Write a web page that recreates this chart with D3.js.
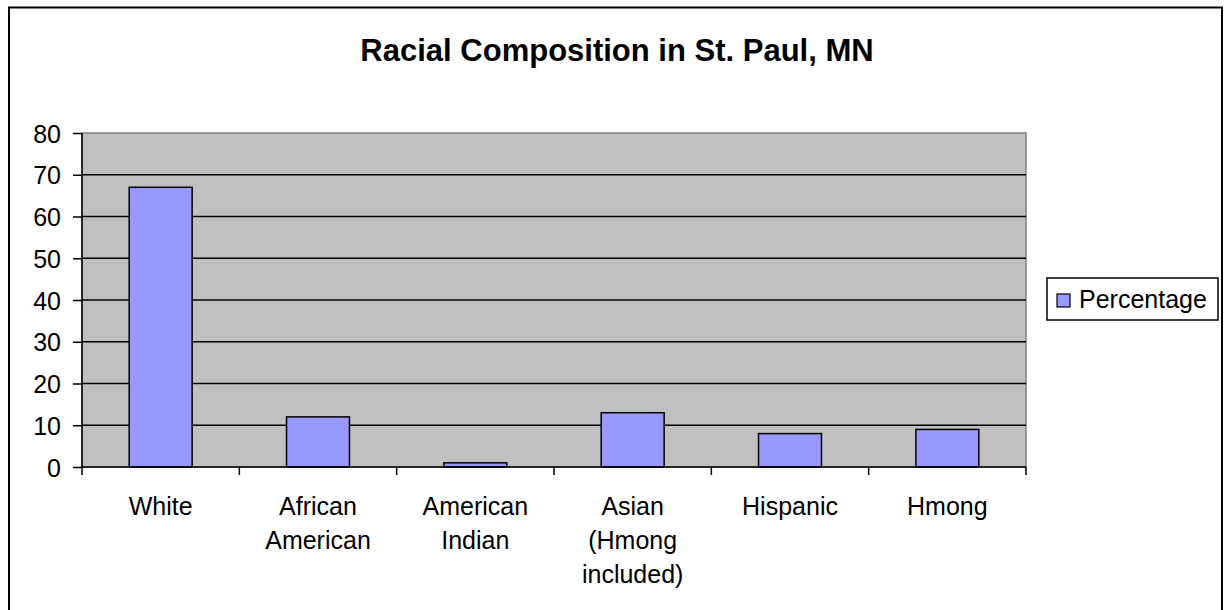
<!DOCTYPE html>
<html>
<head>
<meta charset="utf-8">
<script src="https://cdn.jsdelivr.net/npm/d3@7"></script>
<style>
  body { margin: 0; background: #fff; }
  text { font-family: "Liberation Sans", Arial, sans-serif; fill: #000; }
</style>
</head>
<body>
<div id="chart"></div>
<script>
const FRAME_WIDTH = 1225;
const FRAME_HEIGHT = 610;
const MARGINS = {left: 82, right: 199, top: 133, bottom: 143};

// data
const categories = ["White", "African American", "American Indian", "Asian (Hmong included)", "Hispanic", "Hmong"];
const percentage = [67, 12, 1, 13, 8, 9];
const yTicks = [0, 10, 20, 30, 40, 50, 60, 70, 80];
const seriesName = "Percentage";

const VIS_WIDTH = FRAME_WIDTH - MARGINS.left - MARGINS.right;
const VIS_HEIGHT = FRAME_HEIGHT - MARGINS.top - MARGINS.bottom;

const svg = d3.select("#chart")
  .append("svg")
    .attr("width", FRAME_WIDTH)
    .attr("height", FRAME_HEIGHT);

// outer chart border
svg.append("rect")
  .attr("x", 9).attr("y", 7.5)
  .attr("width", 1213).attr("height", 640)
  .attr("fill", "#fff")
  .attr("stroke", "#000")
  .attr("stroke-width", 2);

svg.append("text")
  .attr("x", 617).attr("y", 61)
  .attr("text-anchor", "middle")
  .attr("font-size", 31)
  .attr("font-weight", "bold")
  .text("Racial Composition in St. Paul, MN");

const x = d3.scaleBand()
  .domain(categories)
  .range([0, VIS_WIDTH])
  .paddingInner(0.6)
  .paddingOuter(0.3);

const xOuter = d3.scaleBand()
  .domain(categories)
  .range([0, VIS_WIDTH]);

const y = d3.scaleLinear()
  .domain([0, 80])
  .range([VIS_HEIGHT, 0]);

const g = svg.append("g")
  .attr("transform", "translate(" + MARGINS.left + "," + MARGINS.top + ")");

// plot area
g.append("rect")
  .attr("width", VIS_WIDTH).attr("height", VIS_HEIGHT)
  .attr("fill", "#c0c0c0")
  .attr("stroke", "#808080")
  .attr("stroke-width", 1.5);

// gridlines
g.selectAll(".grid")
  .data(yTicks.filter(d => d > 0 && d < 80))
  .enter()
  .append("line")
    .attr("x1", 0).attr("x2", VIS_WIDTH)
    .attr("y1", d => y(d)).attr("y2", d => y(d))
    .attr("stroke", "#000")
    .attr("stroke-width", 1.5);

// bars
g.selectAll(".bar")
  .data(categories)
  .enter()
  .append("rect")
    .attr("x", d => x(d))
    .attr("y", (d, i) => y(percentage[i]))
    .attr("width", x.bandwidth())
    .attr("height", (d, i) => VIS_HEIGHT - y(percentage[i]))
    .attr("fill", "#9999ff")
    .attr("stroke", "#000")
    .attr("stroke-width", 1.5);

// y axis
const yAxis = g.append("g")
  .call(d3.axisLeft(y).tickValues(yTicks).tickSize(9).tickPadding(12));
yAxis.selectAll("text").attr("font-size", 25).attr("dy", "0.36em");
yAxis.selectAll("line, path").attr("stroke", "#000").attr("stroke-width", 1.5);
yAxis.select(".domain").attr("d", "M0," + VIS_HEIGHT + "V0");

// x axis with ticks at band boundaries
const xAxis = g.append("g")
  .attr("transform", "translate(0," + VIS_HEIGHT + ")");
xAxis.append("line")
  .attr("x1", 0).attr("x2", VIS_WIDTH)
  .attr("stroke", "#000").attr("stroke-width", 1.5);
xAxis.selectAll(".tick")
  .data(categories.map(d => xOuter(d)).concat([VIS_WIDTH]))
  .enter()
  .append("line")
    .attr("x1", d => d).attr("x2", d => d)
    .attr("y1", 0).attr("y2", 8)
    .attr("stroke", "#000").attr("stroke-width", 1.5);

// wrapped category labels
const labels = xAxis.selectAll(".cat")
  .data(categories)
  .enter()
  .append("text")
    .attr("class", "cat")
    .attr("text-anchor", "middle")
    .attr("font-size", 25)
    .attr("x", d => xOuter(d) + xOuter.bandwidth() / 2)
    .attr("y", 48);

labels.each(function(d) {
  const el = d3.select(this);
  const words = d.split(" ");
  const cx = xOuter(d) + xOuter.bandwidth() / 2;
  let line = [];
  let tspan = el.append("tspan").attr("x", cx).attr("dy", 0);
  words.forEach(w => {
    line.push(w);
    tspan.text(line.join(" "));
    if (tspan.node().getComputedTextLength() > 135 && line.length > 1) {
      line.pop();
      tspan.text(line.join(" "));
      line = [w];
      tspan = el.append("tspan").attr("x", cx).attr("dy", 34).text(w);
    }
  });
});

// legend
const legend = svg.append("g")
  .attr("transform", "translate(1047,278)");
legend.append("rect")
  .attr("width", 171).attr("height", 42)
  .attr("fill", "#fff")
  .attr("stroke", "#000")
  .attr("stroke-width", 1.5);
legend.append("rect")
  .attr("x", 10).attr("y", 16)
  .attr("width", 13).attr("height", 13)
  .attr("fill", "#9999ff")
  .attr("stroke", "#000")
  .attr("stroke-width", 1.2);
legend.append("text")
  .attr("x", 32).attr("y", 30)
  .attr("font-size", 25)
  .text(seriesName);
</script>
</body>
</html>
